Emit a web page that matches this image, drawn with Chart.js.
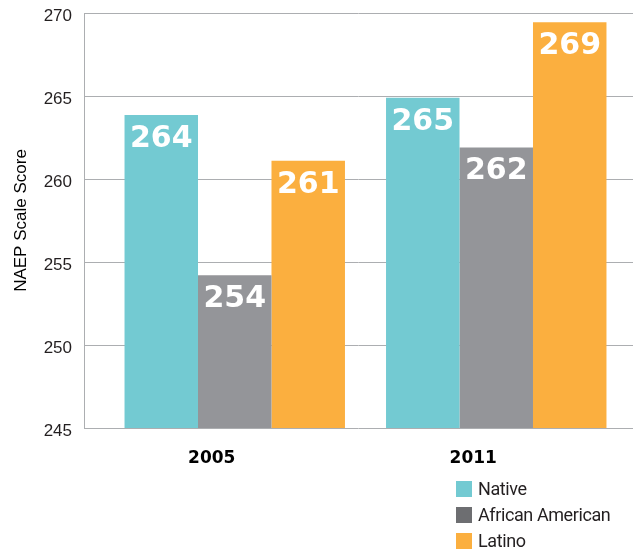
<!DOCTYPE html>
<html>
<head>
<meta charset="utf-8">
<script src="https://cdn.jsdelivr.net/npm/chart.js@4/dist/chart.umd.min.js"></script>
<style>
  body { margin: 0; background: #fff; }
  #wrap { position: relative; width: 633px; height: 549px; }
  #legend { position: absolute; left: 456px; top: 476px; font-family: "Liberation Sans Narrow", "Roboto", sans-serif; font-size: 18px; letter-spacing: -0.4px; color: #231f20; }
  #legend div { height: 26px; line-height: 26px; white-space: nowrap; }
  #legend span { display: inline-block; width: 16px; height: 16px; margin-right: 6px; vertical-align: -2px; }
</style>
</head>
<body>
<div id="wrap">
  <canvas id="naepChart" width="633" height="549"></canvas>
  <div id="legend"></div>
</div>
<script>
// datos
var years = ['2005', '2011'];
var groups = ['Native', 'African American', 'Latino'];
var nativeScores = [263.85, 264.9];
var africanAmericanScores = [254.2, 261.9];
var latinoScores = [261.1, 269.45];
var yTicks = [245, 250, 255, 260, 265, 270];

var barColors = ['#73cad2', '#949599', '#fbaf3f'];
var legendColors = ['#73cad2', '#6d6e71', '#fbaf3f'];

// líneas de cuadrícula y eje vertical
var gridPlugin = {
    id: 'gridExtend',
    beforeDatasetsDraw: function(chart) {
        var ctx = chart.ctx;
        var y = chart.scales.y;
        var area = chart.chartArea;
        ctx.save();
        ctx.strokeStyle = '#acaeb1';
        ctx.lineWidth = 1;
        yTicks.forEach(function(t) {
            var py = Math.round(y.getPixelForValue(t)) + 0.5;
            ctx.beginPath();
            ctx.moveTo(area.left - 20, py);
            ctx.lineTo(chart.width, py);
            ctx.stroke();
        });
        ctx.beginPath();
        ctx.moveTo(area.left - 19.5, area.top);
        ctx.lineTo(area.left - 19.5, area.bottom);
        ctx.stroke();
        ctx.restore();
    }
};

// etiquetas de valor dentro de las barras
var valuePlugin = {
    id: 'valueLabels',
    afterDatasetsDraw: function(chart) {
        var ctx = chart.ctx;
        ctx.save();
        ctx.fillStyle = '#ffffff';
        ctx.font = 'bold 30px "DejaVu Sans", sans-serif';
        ctx.textAlign = 'center';
        ctx.textBaseline = 'alphabetic';
        chart.data.datasets.forEach(function(ds, i) {
            chart.getDatasetMeta(i).data.forEach(function(bar, j) {
                ctx.fillText(String(Math.round(ds.data[j])), bar.x, bar.y + 32);
            });
        });
        ctx.restore();
    }
};

var ctx = document.getElementById('naepChart').getContext('2d');
new Chart(ctx, {
    type: 'bar',
    data: {
        labels: years,
        datasets: [
            { label: groups[0], data: nativeScores, backgroundColor: barColors[0] },
            { label: groups[1], data: africanAmericanScores, backgroundColor: barColors[1] },
            { label: groups[2], data: latinoScores, backgroundColor: barColors[2] }
        ]
    },
    options: {
        responsive: false,
        animation: false,
        layout: { padding: { top: 13, right: 6, left: 0, bottom: 0 } },
        datasets: { bar: { categoryPercentage: 0.843, barPercentage: 1.0, borderWidth: 0 } },
        plugins: {
            legend: { display: false },
            tooltip: { enabled: false }
        },
        scales: {
            x: {
                grid: { display: false },
                border: { display: false },
                ticks: { color: '#000', font: { family: '"DejaVu Sans", sans-serif', size: 17, weight: 'bold' }, padding: 12, labelOffset: -23 },
                afterFit: function(scale) { scale.height = 121; }
            },
            y: {
                min: 245,
                max: 270,
                afterBuildTicks: function(scale) { scale.ticks = yTicks.map(function(v) { return { value: v }; }); },
                grid: { display: false, drawTicks: false },
                border: { display: false },
                ticks: { color: '#231f20', font: { family: 'Arial, sans-serif', size: 17 }, padding: 32, labelOffset: 3 },
                title: { display: true, text: 'NAEP Scale Score', color: '#000', font: { family: 'Arial, sans-serif', size: 17 }, padding: { top: 11, bottom: 0 } },
                afterFit: function(scale) {
                    scale.width = 104;
                    scale.paddingTop = 0;
                    scale.paddingBottom = 0;
                }
            }
        }
    },
    plugins: [gridPlugin, valuePlugin]
});

// leyenda en HTML
var legendEl = document.getElementById('legend');
groups.forEach(function(g, i) {
    var row = document.createElement('div');
    var box = document.createElement('span');
    box.style.background = legendColors[i];
    row.appendChild(box);
    row.appendChild(document.createTextNode(g));
    legendEl.appendChild(row);
});
</script>
</body>
</html>
